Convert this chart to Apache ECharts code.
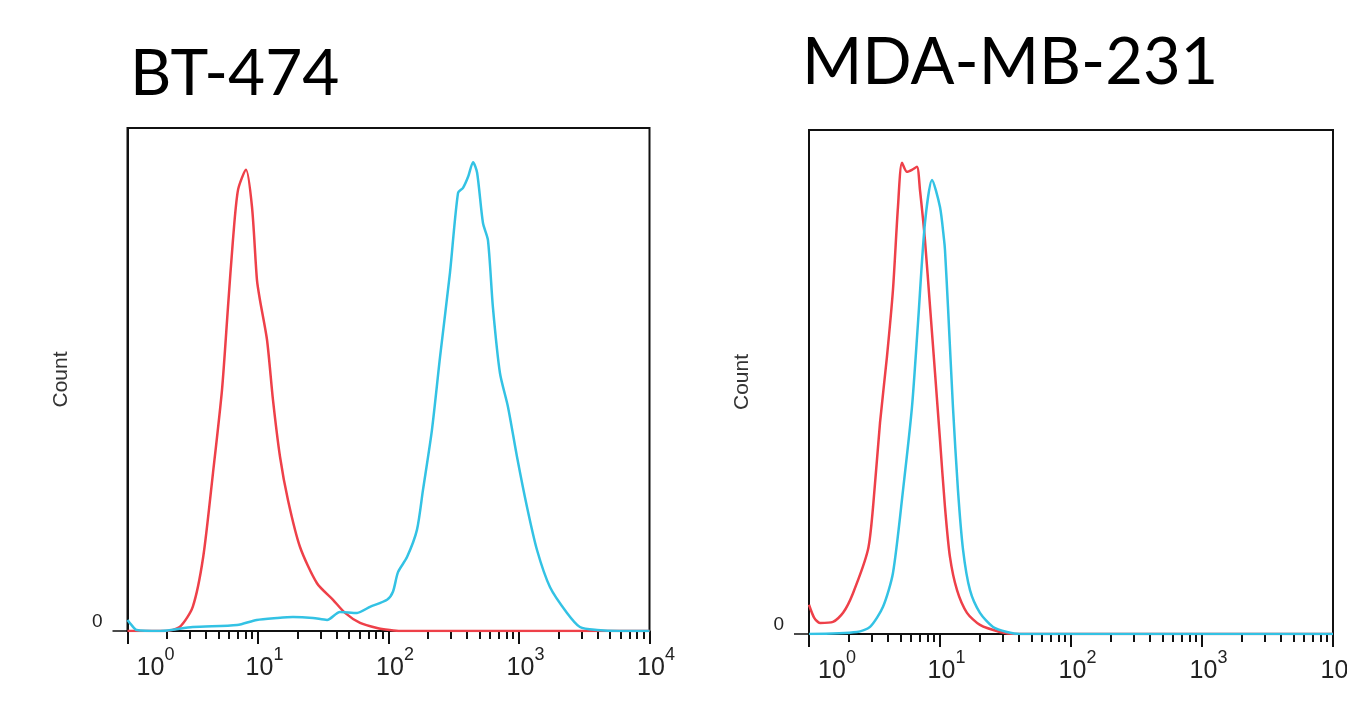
<!DOCTYPE html>
<html>
<head>
<meta charset="utf-8">
<script src="https://cdn.jsdelivr.net/npm/echarts@6/dist/echarts.min.js"></script>
<style>
html,body{margin:0;padding:0;background:#fff;}
#chart{width:1347px;height:710px;}
</style>
</head>
<body>
<div id="chart"></div>
<script>
// x = log10(fluorescence), y = count (% of full scale)
const titles = ['BT-474', 'MDA-MB-231'];
const decadeTicks = [0, 1, 2, 3, 4];
const minorMultipliers = [2, 3, 4, 5, 6, 7, 8, 9];

const bt474Red = [[0,0],[0.29,0],[0.40,0.8],[0.50,4.8],[0.58,14.7],[0.655,31.4],[0.724,47.9],[0.77,64.4],[0.808,77.7],[0.847,87.7],[0.908,91.7],[0.954,84.3],[0.992,69.8],[1.015,65.8],[1.069,57.9],[1.115,45.9],[1.169,34.6],[1.23,26.0],[1.322,16.7],[1.452,9.5],[1.575,6.2],[1.667,3.6],[1.782,1.6],[1.912,0.6],[2.01,0.2],[2.09,0],[4,0]];

const bt474Cyan = [[0,2.2],[0.03,1.2],[0.07,0.2],[0.25,0],[0.5,0.8],[0.84,1.2],[0.99,2.2],[1.146,2.6],[1.268,2.8],[1.421,2.6],[1.529,2.2],[1.628,3.8],[1.759,3.6],[1.858,4.8],[1.989,6.2],[2.034,7.8],[2.073,11.7],[2.142,14.7],[2.218,20.1],[2.264,28.0],[2.333,40.0],[2.395,54.5],[2.471,71.2],[2.533,87.1],[2.571,88.1],[2.61,90.3],[2.648,93.2],[2.679,91.1],[2.724,81.1],[2.762,77.7],[2.8,64.4],[2.854,51.3],[2.916,44.5],[2.985,34.6],[3.061,24.7],[3.138,16.1],[3.238,8.7],[3.368,3.6],[3.467,0.8],[3.598,0.2],[3.77,0],[4,0]];

const mdaRed = [[0,5.8],[0.04,3.2],[0.084,2.2],[0.183,2.4],[0.26,4.2],[0.336,8.1],[0.45,16.7],[0.489,25.2],[0.542,41.9],[0.595,55.0],[0.641,68.3],[0.679,84.7],[0.71,93.5],[0.748,91.7],[0.786,92.1],[0.824,92.7],[0.847,88.1],[0.885,78.2],[0.924,64.9],[0.962,51.8],[1.0,38.5],[1.038,25.2],[1.076,15.3],[1.13,8.7],[1.206,4.2],[1.305,1.8],[1.458,0.4],[1.57,0],[4,0]];

const mdaCyan = [[0,0],[0.366,0.4],[0.466,1.4],[0.565,5.4],[0.641,12.1],[0.718,28.6],[0.786,45.0],[0.832,61.7],[0.885,81.5],[0.939,90.1],[1.0,84.7],[1.031,78.2],[1.038,76.2],[1.061,64.9],[1.099,45.0],[1.137,28.6],[1.176,16.7],[1.229,8.7],[1.305,4.2],[1.405,1.4],[1.511,0.4],[1.61,0],[4,0]];

const minorTicks = [];
for (let d = 0; d < 4; d++) minorMultipliers.forEach(m => minorTicks.push(d + Math.log10(m)));

const RED = '#ee4049', CYAN = '#33c2e4', INK = '#111';
const FONT = 'Liberation Sans, Arial, sans-serif';

const grids = [
  {left: 127.5, top: 128, width: 522, height: 503},
  {left: 809, top: 130, width: 524, height: 504}
];

function mainX(gi) {
  return {
    type: 'value', gridIndex: gi, min: 0, max: 4, interval: 1, position: 'bottom',
    axisLine: {show: true, onZero: false, lineStyle: {color: INK, width: 2}},
    axisTick: {show: true, length: 13, lineStyle: {color: INK, width: 2}},
    splitLine: {show: false},
    axisLabel: {
      show: true, margin: 15, showMinLabel: true, showMaxLabel: true,
      color: '#222', fontFamily: FONT,
      formatter: v => (v === 0 ? '{q| }' : '{p| }') + '{n|10}{e|' + v + '}',
      rich: {
        n: {fontSize: 25, lineHeight: 44, fontFamily: FONT, color: '#222'},
        e: {fontSize: 18, lineHeight: 9, verticalAlign: 'top', fontFamily: FONT, color: '#222'},
        p: {width: 13},
        q: {width: 56}
      }
    }
  };
}
function minorX(gi) {
  return {
    type: 'value', gridIndex: gi, min: 0, max: 4, position: 'bottom',
    axisLine: {show: false},
    axisTick: {show: true, length: 8, customValues: minorTicks, lineStyle: {color: INK, width: 2}},
    axisLabel: {show: false},
    splitLine: {show: false}
  };
}
function yAx(gi) {
  return {
    type: 'value', gridIndex: gi, min: 0, max: 100,
    name: 'Count', nameLocation: 'middle', nameGap: 56,
    nameTextStyle: {fontSize: 21, fontFamily: FONT, color: '#333'},
    axisLine: {show: true, lineStyle: {color: INK, width: 2}},
    axisTick: {show: true, length: 15, customValues: [0], lineStyle: {color: INK, width: 1.5}},
    axisLabel: {show: true, customValues: [0], margin: 25, verticalAlign: 'bottom',
      fontSize: 19, fontFamily: FONT, color: '#222'},
    splitLine: {show: false}
  };
}
function line(data, color, xi, yi) {
  return {
    type: 'line', data: data, xAxisIndex: xi, yAxisIndex: yi,
    showSymbol: false, smooth: 0.25, animation: false,
    lineStyle: {color: color, width: 2.5}, itemStyle: {color: color}
  };
}

const chart = echarts.init(document.getElementById('chart'), null, {renderer: 'canvas'});
chart.setOption({
  backgroundColor: '#fff',
  animation: false,
  title: [
    {text: titles[0], left: 130, top: 42, padding: 0,
     textStyle: {fontFamily: 'Lato', fontWeight: 'normal', fontSize: 64, color: '#000', lineHeight: 64}},
    {text: titles[1], left: 802, top: 31, padding: 0,
     textStyle: {fontFamily: 'Lato', fontWeight: 'normal', fontSize: 65, color: '#000', lineHeight: 65}}
  ],
  grid: grids.map(g => Object.assign({show: true, borderColor: INK, borderWidth: 2,
    backgroundColor: 'transparent', containLabel: false, outerBoundsMode: 'none'}, g)),
  xAxis: [mainX(0), minorX(0), mainX(1), minorX(1)],
  yAxis: [yAx(0), yAx(1)],
  series: [
    line(bt474Red, RED, 0, 0),
    line(bt474Cyan, CYAN, 0, 0),
    line(mdaRed, RED, 2, 1),
    line(mdaCyan, CYAN, 2, 1)
  ]
});
</script>
</body>
</html>
